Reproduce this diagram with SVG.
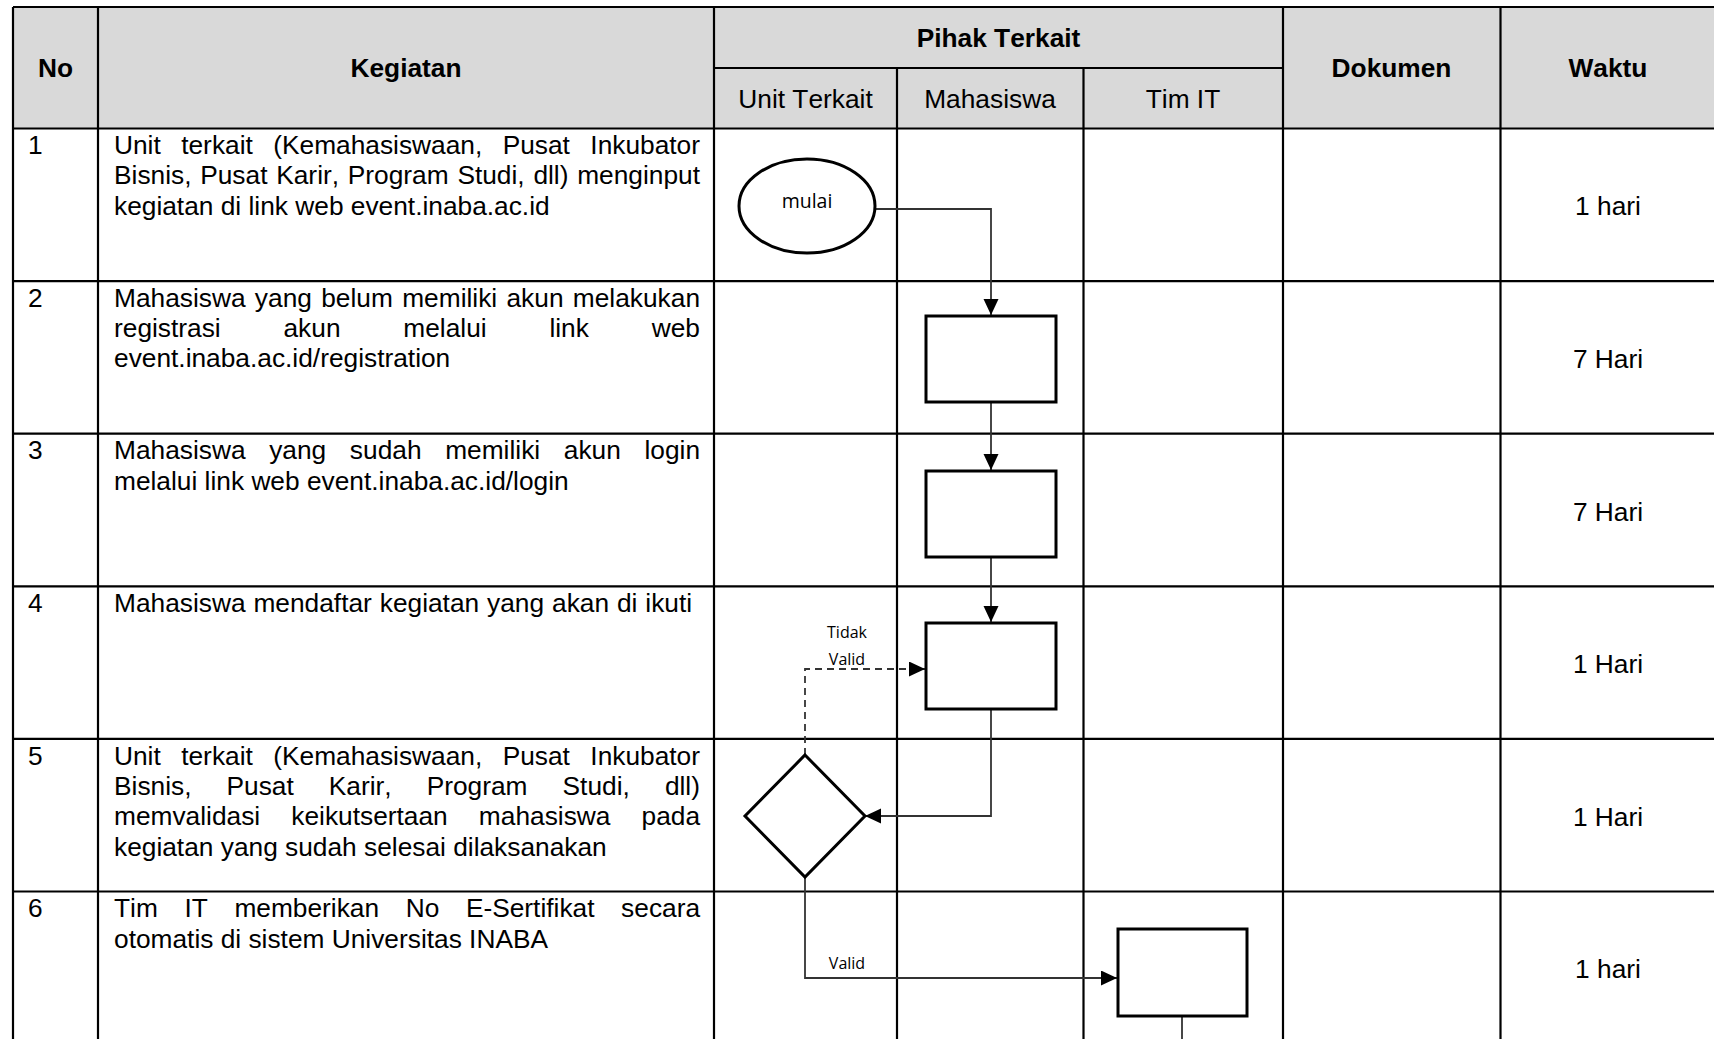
<svg xmlns="http://www.w3.org/2000/svg" width="1714" height="1039" viewBox="0 0 1714 1039">
<style>
text{font-family:"Liberation Sans",Arial,sans-serif;font-size:26.3px;fill:#000;font-kerning:none}
.b{font-weight:bold}
.c{text-anchor:middle}
.sm{font-family:"Open Sans","Liberation Sans",sans-serif;font-size:16px;text-anchor:middle}
.grid{stroke:#000;stroke-width:2.2;fill:none}
.node{fill:#fff;stroke:#000;stroke-width:3}
.conn{fill:none;stroke:#333;stroke-width:1.8}
.dash{stroke-dasharray:7,5}
</style>
<defs>
<marker id="arr" markerUnits="userSpaceOnUse" markerWidth="18" markerHeight="16" refX="16" refY="7.5" orient="auto">
<path d="M0,0 L16,7.5 L0,15 z" fill="#000"/>
</marker>
</defs>
<rect x="0" y="0" width="1714" height="1039" fill="#fff"/>
<g id="table">
<rect x="13" y="7" width="1710" height="121.5" fill="#d9d9d9"/>
<path class="grid" d="M13,7 H1714 M714,68 H1283 M13,128.5 H1714 M13,281.1 H1714 M13,433.7 H1714 M13,586.3 H1714 M13,738.9 H1714 M13,891.5 H1714"/>
<path class="grid" d="M13,7 V1039 M98,7 V1039 M714,7 V1039 M897,68 V1039 M1083.5,68 V1039 M1283,7 V1039 M1500.5,7 V1039"/>
<text class="b c" x="55.5" y="77.3">No</text>
<text class="b c" x="406" y="77.3">Kegiatan</text>
<text class="b c" x="998.5" y="47">Pihak Terkait</text>
<text class="c" x="805.5" y="108">Unit Terkait</text>
<text class="c" x="990" y="108">Mahasiswa</text>
<text class="c" x="1183" y="108">Tim IT</text>
<text class="b c" x="1391.5" y="77.3">Dokumen</text>
<text class="b c" x="1608" y="77.3">Waktu</text>
</g>
<g id="rows">
<text x="28" y="154">1</text>
<text x="114" y="154" word-spacing="13.12">Unit terkait (Kemahasiswaan, Pusat Inkubator</text>
<text x="114" y="184.3" word-spacing="1.45">Bisnis, Pusat Karir, Program Studi, dll) menginput</text>
<text x="114" y="214.6">kegiatan di link web event.inaba.ac.id</text>
<text class="c" x="1608" y="215.3">1 hari</text>

<text x="28" y="306.8">2</text>
<text x="114" y="306.8" word-spacing="2.03">Mahasiswa yang belum memiliki akun melakukan</text>
<text x="114" y="337.1" word-spacing="55.5">registrasi akun melalui link web</text>
<text x="114" y="367.4">event.inaba.ac.id/registration</text>
<text class="c" x="1608" y="367.9">7 Hari</text>

<text x="28" y="459.4">3</text>
<text x="114" y="459.4" word-spacing="16.35">Mahasiswa yang sudah memiliki akun login</text>
<text x="114" y="489.7">melalui link web event.inaba.ac.id/login</text>
<text class="c" x="1608" y="520.5">7 Hari</text>

<text x="28" y="612">4</text>
<text x="114" y="612" word-spacing="0.6">Mahasiswa mendaftar kegiatan yang akan di ikuti</text>
<text class="c" x="1608" y="673.1">1 Hari</text>

<text x="28" y="764.6">5</text>
<text x="114" y="764.6" word-spacing="13.12">Unit terkait (Kemahasiswaan, Pusat Inkubator</text>
<text x="114" y="794.9" word-spacing="27.75">Bisnis, Pusat Karir, Program Studi, dll)</text>
<text x="114" y="825.2" word-spacing="23.85">memvalidasi keikutsertaan mahasiswa pada</text>
<text x="114" y="855.5">kegiatan yang sudah selesai dilaksanakan</text>
<text class="c" x="1608" y="825.7">1 Hari</text>

<text x="28" y="917.2">6</text>
<text x="114" y="917.2" word-spacing="19.3">Tim IT memberikan No E-Sertifikat secara</text>
<text x="114" y="947.5">otomatis di sistem Universitas INABA</text>
<text class="c" x="1608" y="978.3">1 hari</text>
</g>
<g id="connectors">
<path class="conn" d="M875,209 H991 V315" marker-end="url(#arr)"/>
<path class="conn" d="M991,402 V470" marker-end="url(#arr)"/>
<path class="conn" d="M991,557 V622" marker-end="url(#arr)"/>
<path class="conn" d="M991,709 V816 H865" marker-end="url(#arr)"/>
<path class="conn dash" d="M805,755 V669 H925" marker-end="url(#arr)"/>
<path class="conn" d="M805,877 V978 H1117" marker-end="url(#arr)"/>
<path class="conn" d="M1182,1016 V1039"/>
<text class="sm" x="847" y="638">Tidak</text>
<text class="sm" x="847" y="665">Valid</text>
<text class="sm" x="847" y="969">Valid</text>
</g>
<g id="start">
<ellipse class="node" cx="807" cy="206" rx="68" ry="47" stroke-width="2.5"/>
<text class="sm" x="807" y="208" style="font-size:19.5px">mulai</text>
</g>
<g id="step2"><rect class="node" x="926" y="316" width="130" height="86"/></g>
<g id="step3"><rect class="node" x="926" y="471" width="130" height="86"/></g>
<g id="step4"><rect class="node" x="926" y="623" width="130" height="86"/></g>
<g id="decision"><polygon class="node" stroke-width="2" points="805,755 865,816 805,877 745,816"/></g>
<g id="step6"><rect class="node" x="1118" y="929" width="129" height="87"/></g>
</svg>
